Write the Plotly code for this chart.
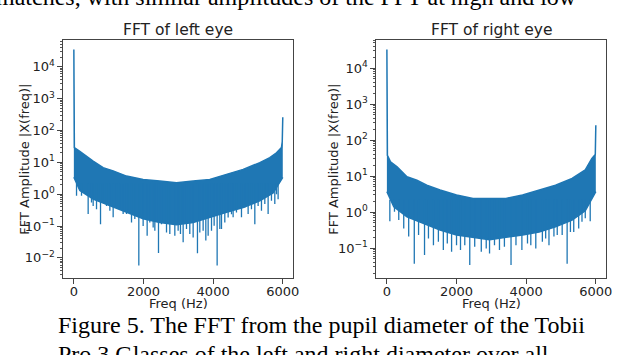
import plotly.graph_objects as go

# FFT of the left eye: upper and lower edge of the dense band (Hz, |X|)
left_top_hz = [0, 6, 15, 172, 365, 554, 841, 1128, 1513, 1990, 2469, 2948, 3425, 3904, 4384, 4861, 5340, 5627, 5819, 5962, 5985, 6000]
left_top_amp = [35000, 260, 29, 22, 16, 11, 6.8, 5.4, 3.7, 2.9, 2.6, 2.3, 2.6, 2.9, 4.2, 6.0, 9.8, 14, 20, 29, 45, 260]
left_bot_hz = [0, 172, 554, 1034, 1513, 1990, 2469, 2948, 3425, 3904, 4384, 4861, 5340, 5723, 6000]
left_bot_amp = [3.4, 1.3, 0.7, 0.43, 0.27, 0.17, 0.13, 0.11, 0.13, 0.19, 0.27, 0.38, 0.62, 1.1, 3.4]
# single bins that drop below the band
left_dip_hz = [77, 220, 411, 507, 555, 651, 766, 842, 938, 1034, 1129, 1225, 1321, 1416, 1512, 1560, 1656, 1751,
               1866, 1943, 1990, 2105, 2182, 2278, 2326, 2431, 2517, 2661, 2756, 2900, 2995, 3062, 3139, 3235,
               3330, 3426, 3550, 3617, 3713, 3790, 3857, 3953, 4029, 4115, 4192, 4240, 4335, 4431, 4527, 4574,
               4670, 4814, 4909, 5005, 5101, 5197, 5292, 5388, 5484, 5579, 5675, 5771, 5819, 5866]
left_dip_amp = [0.89, 0.89, 0.24, 0.55, 0.43, 0.34, 0.115, 0.55, 0.43, 0.30, 0.19, 0.43, 0.34, 0.24, 0.24, 0.34, 0.13, 0.166,
                0.0058, 0.187, 0.10, 0.05, 0.13, 0.09, 0.071, 0.0144, 0.115, 0.063, 0.056, 0.05, 0.071, 0.056, 0.031, 0.081,
                0.056, 0.044, 0.014, 0.063, 0.071, 0.035, 0.05, 0.071, 0.102, 0.0058, 0.081, 0.081, 0.13, 0.187, 0.237, 0.19,
                0.267, 0.19, 0.38, 0.24, 0.34, 0.115, 0.43, 0.30, 0.49, 0.24, 0.62, 0.49, 1.0, 0.7]

# FFT of the right eye
right_top_hz = [0, 6, 15, 105, 293, 577, 862, 1146, 1527, 2000, 2474, 2949, 3421, 3896, 4371, 4843, 5318, 5697, 5887, 5985, 6000]
right_top_amp = [33000, 215, 38, 25, 18, 9.6, 7.7, 5.6, 4.1, 3.0, 2.4, 2.4, 2.4, 3.0, 4.1, 5.6, 8.6, 15, 31, 40, 260]
right_bot_hz = [0, 199, 577, 1052, 1527, 2000, 2474, 2949, 3421, 3896, 4371, 4843, 5318, 5697, 6000]
right_bot_amp = [3.7, 1.4, 0.74, 0.49, 0.32, 0.23, 0.2, 0.17, 0.2, 0.23, 0.28, 0.39, 0.6, 1.1, 3.7]
right_dip_hz = [85, 218, 341, 484, 626, 787, 910, 1081, 1194, 1337, 1479, 1621, 1735, 1858, 2000, 2114, 2237, 2380,
                2522, 2711, 2853, 2948, 3090, 3233, 3375, 3565, 3707, 3877, 4038, 4133, 4276, 4465, 4560, 4655,
                4797, 4892, 5034, 5176, 5271, 5366, 5508, 5603, 5697, 5839]
right_dip_amp = [0.56, 1.02, 0.6, 0.35, 0.21, 0.037, 0.23, 0.064, 0.186, 0.12, 0.15, 0.088, 0.135, 0.079, 0.12, 0.088, 0.12, 0.034,
                 0.109, 0.079, 0.098, 0.071, 0.12, 0.088, 0.109, 0.034, 0.12, 0.088, 0.135, 0.12, 0.098, 0.15, 0.186, 0.12,
                 0.21, 0.23, 0.23, 0.037, 0.28, 0.28, 0.35, 0.54, 0.67, 0.56]

x_ticks = [0, 2000, 4000, 6000]
y_tick_exp = [-2, -1, 0, 1, 2, 3, 4]

BLUE = '#1f77b4'
SANS = 'DejaVu Sans'
DIP_TOP = 2.2  # dips are drawn from their value up into the band
W, H = 640, 355


def add_spectrum(fig, top_hz, top_amp, bot_hz, bot_amp, dip_hz, dip_amp, xa, ya):
    fig.add_trace(go.Scatter(x=bot_hz, y=bot_amp, mode='lines', line=dict(color=BLUE, width=1.5),
                             xaxis=xa, yaxis=ya, hoverinfo='skip'))
    fig.add_trace(go.Scatter(x=top_hz, y=top_amp, mode='lines', line=dict(color=BLUE, width=1.5),
                             fill='tonexty', fillcolor=BLUE, xaxis=xa, yaxis=ya, hoverinfo='skip'))
    xs, ys = [], []
    for f, a in zip(dip_hz, dip_amp):
        xs += [f, f, None]
        ys += [DIP_TOP, a, None]
    fig.add_trace(go.Scatter(x=xs, y=ys, mode='lines', line=dict(color=BLUE, width=1.3),
                             xaxis=xa, yaxis=ya, hoverinfo='skip'))


fig = go.Figure()
add_spectrum(fig, left_top_hz, left_top_amp, left_bot_hz, left_bot_amp, left_dip_hz, left_dip_amp, 'x', 'y')
add_spectrum(fig, right_top_hz, right_top_amp, right_bot_hz, right_bot_amp, right_dip_hz, right_dip_amp, 'x2', 'y2')

tick_font = dict(family=SANS, size=13, color='#222')
ydom = [(H - 278) / H, (H - 40) / H]


def xaxis(dom, anchor):
    return dict(domain=dom, anchor=anchor, range=[-300, 6300], tickvals=x_ticks,
                ticktext=[str(t) for t in x_ticks], showgrid=False, zeroline=False,
                showline=True, mirror=True, linecolor='#444', linewidth=1,
                ticks='outside', ticklen=5, tickcolor='#444', tickfont=tick_font,
                ticklabelstandoff=-4)


def yaxis(rng, anchor):
    return dict(domain=ydom, anchor=anchor, type='log', range=rng,
                tickvals=[10 ** e for e in y_tick_exp],
                ticktext=['10<sup>%s</sup>' % str(e).replace('-', '\u2212') for e in y_tick_exp],
                showgrid=False, zeroline=False, showline=True, mirror=True,
                linecolor='#444', linewidth=1, ticks='outside', ticklen=5, tickcolor='#444',
                tickfont=tick_font,
                minor=dict(ticks='outside', ticklen=2.5, tickwidth=0.7, tickcolor='#555', dtick='D1'))


annotations = []


def px_note(text, x, y, size, family=SANS, angle=0, xanchor='center', color='#222'):
    annotations.append(dict(text=text, x=x / W, y=(H - y) / H, xref='paper', yref='paper',
                            showarrow=False, xanchor=xanchor, yanchor='middle', textangle=angle,
                            font=dict(family=family, size=size, color=color)))


px_note('FFT of left eye', 180, 30, 15.5)
px_note('FFT of right eye', 496, 30, 15.5)
px_note('Freq (Hz)', 180, 303, 13)
px_note('Freq (Hz)', 496, 303, 13)
px_note('FFT Amplitude |X(freq)|', 25, 159, 13, angle=-90)
px_note('FFT Amplitude |X(freq)|', 337, 159, 13, angle=-90)

# surrounding paper text
px_note('matches, with similar amplitudes of the FFT at high and low', -6, -3, 24,
        family='Liberation Serif', xanchor='left', color='black')
px_note('Figure 5. The FFT from the pupil diameter of the Tobii', 57, 325, 24,
        family='Liberation Serif', xanchor='left', color='black')
px_note('Pro 3 Glasses of the left and right diameter over all', 57, 354, 24,
        family='Liberation Serif', xanchor='left', color='black')

fig.update_layout(
    width=W, height=H, margin=dict(l=0, r=0, t=0, b=0),
    paper_bgcolor='white', plot_bgcolor='white', showlegend=False,
    xaxis=xaxis([64 / W, 296 / W], 'y'),
    yaxis=yaxis([-2.63, 4.84], 'x'),
    xaxis2=xaxis([380 / W, 612 / W], 'y2'),
    yaxis2=yaxis([-1.83, 4.78], 'x2'),
    annotations=annotations,
)

# drop the default page margin so the figure sits in the top-left corner, no modebar
fig.write_html("out.html", config={'displayModeBar': False},
               post_script="document.body.style.margin='0';")
